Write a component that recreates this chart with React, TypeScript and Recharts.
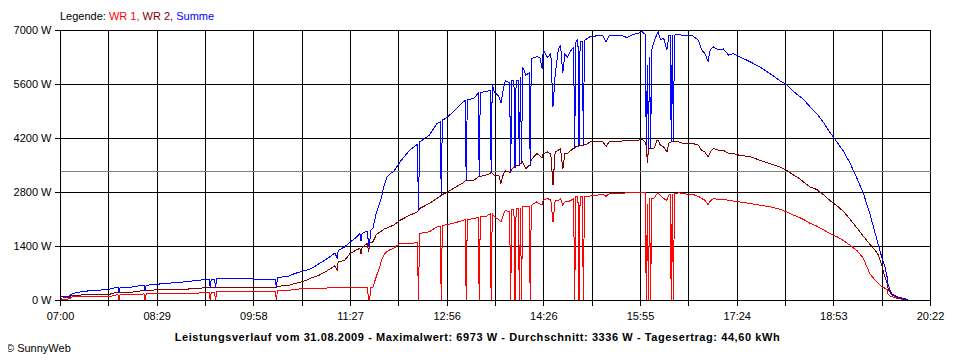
import React from 'react';
import { LineChart, Line, XAxis, YAxis, CartesianGrid, ReferenceLine } from 'recharts';

// time of day in minutes after midnight
const times = [
  420, 428, 431, 438, 446, 455, 461, 467, 472, 473,
  474, 475, 486, 492, 497, 498, 499, 516, 530, 540,
  555, 557, 558, 559, 562, 563, 564, 575, 590, 605,
  618, 619, 620, 630, 636, 642, 648, 652, 658, 664,
  669, 673, 675, 676, 682, 687, 692, 696, 697, 698,
  703, 704, 705, 706, 708, 711, 714, 716, 718, 721,
  724, 727, 733, 742, 749, 750, 751, 760, 767, 770,
  771, 772, 775, 782, 791, 793, 794, 795, 801, 805,
  806, 807, 812, 816, 817, 818, 820, 824, 826, 828,
  830, 834, 835, 836, 838, 839, 840, 842, 843, 844,
  845, 846, 849, 852, 853, 854, 859, 862, 864, 865,
  869, 872, 874, 876, 879, 881, 883, 885, 887, 891,
  893, 894, 895, 897, 898, 899, 901, 902, 903, 905,
  908, 914, 920, 923, 926, 936, 942, 948, 953, 956,
  959, 960, 961, 962, 963, 964, 965, 967, 970, 971,
  973, 976, 979, 981, 982, 983, 984, 985, 986, 990,
  994, 999, 1003, 1008, 1011, 1014, 1017, 1019, 1022, 1026,
  1031, 1036, 1040, 1046, 1056, 1065, 1074, 1083, 1089, 1096,
  1102, 1105, 1111, 1117, 1123, 1129, 1136, 1142, 1148, 1154,
  1160, 1166, 1171, 1174, 1177, 1180, 1182, 1183, 1186, 1191,
  1195, 1201,
];

const wr1 = [
  30, 40, 95, 95, 110, 110, 110, 110, 150, 155,
  0, 155, 155, 155, 170, 0, 170, 170, 170, 175,
  215, 215, 0, 215, 215, 0, 240, 240, 240, 240,
  240, 0, 265, 265, 280, 310, 310, 315, 320, 320,
  330, 335, 335, 335, 335, 335, 335, 335, 335, 335,
  335, 0, 0, 335, 350, 610, 850, 1045, 1180, 1270,
  1320, 1350, 1480, 1480, 1500, 0, 1740, 1780, 1910, 1910,
  0, 1950, 1960, 2000, 2080, 2100, 0, 2100, 2125, 2150,
  0, 2170, 2170, 2250, 0, 2255, 2170, 2100, 2040, 2200,
  2340, 2300, 0, 2350, 2350, 0, 2385, 2385, 0, 2400,
  0, 2430, 2430, 2430, 0, 2470, 2555, 2500, 2500, 2600,
  2645, 2600, 2040, 2600, 2600, 2640, 2470, 2555, 2555, 2600,
  2650, 0, 2685, 2685, 0, 2685, 2685, 0, 2700, 2700,
  2710, 2730, 2750, 2700, 2775, 2775, 2790, 2800, 2800, 2800,
  2790, 0, 2500, 0, 2645, 0, 2645, 2645, 2775, 2790,
  2730, 2645, 2600, 2750, 2750, 0, 2750, 0, 2775, 2790,
  2775, 2750, 2750, 2700, 2645, 2600, 2480, 2580, 2645, 2620,
  2620, 2600, 2580, 2555, 2515, 2470, 2430, 2365, 2300, 2210,
  2140, 2100, 2000, 1930, 1840, 1740, 1650, 1550, 1430, 1300,
  1100, 700, 520, 450, 350, 320, 280, 150, 100, 60,
  40, 10,
];

const wr2 = [
  60, 80, 140, 140, 155, 155, 160, 170, 215, 215,
  215, 215, 215, 240, 260, 260, 260, 290, 290, 300,
  335, 335, 335, 335, 335, 335, 335, 335, 340, 335,
  335, 335, 370, 390, 440, 480, 540, 595, 650, 740,
  830, 900, 780, 1000, 1045, 1220, 1300, 1350, 1200, 1380,
  1480, 1250, 1480, 1500, 1520, 1700, 1770, 1800, 1850, 1880,
  1920, 1950, 2080, 2210, 2300, 2330, 2385, 2515, 2650, 2700,
  2730, 2750, 2780, 2900, 3050, 3100, 3100, 3120, 3120, 3200,
  3220, 3220, 3250, 3290, 3335, 3300, 3250, 3250, 3035, 3250,
  3360, 3330, 3330, 3400, 3450, 3450, 3510, 3510, 3510, 3550,
  3560, 3595, 3420, 3500, 3500, 3650, 3810, 3750, 3700, 3810,
  3850, 3800, 2990, 3850, 3900, 3940, 3400, 3810, 3810, 3900,
  3950, 3950, 4000, 4000, 4000, 4025, 4025, 4025, 4050, 4050,
  4110, 4110, 4110, 4000, 4125, 4125, 4155, 4155, 4160, 4180,
  4110, 4025, 3560, 3940, 3940, 3940, 3940, 3940, 4155, 4150,
  4025, 3980, 3850, 4100, 4100, 4110, 4110, 4110, 4110, 4110,
  4070, 4070, 4070, 4025, 3895, 3850, 3725, 3850, 3940, 3900,
  3895, 3810, 3810, 3765, 3725, 3635, 3550, 3465, 3380, 3250,
  3145, 3070, 2945, 2880, 2750, 2600, 2450, 2300, 2100, 1890,
  1670, 1460, 1300, 1175, 915, 610, 450, 300, 150, 80,
  40, 15,
];

const summe = [
  90, 110, 180, 220, 250, 260, 290, 300, 350, 350,
  215, 350, 350, 380, 395, 260, 395, 440, 470, 500,
  550, 550, 335, 550, 550, 335, 570, 560, 565, 550,
  550, 335, 595, 630, 700, 750, 800, 840, 950, 1050,
  1150, 1230, 1100, 1300, 1390, 1520, 1620, 1740, 1550, 1740,
  1800, 1400, 1500, 1820, 1870, 2255, 2500, 2685, 2950, 3200,
  3290, 3335, 3595, 3900, 4050, 2330, 4110, 4285, 4590, 4630,
  2730, 4680, 4720, 4890, 5150, 5180, 3100, 5200, 5240, 5370,
  3220, 5400, 5410, 5450, 3335, 5600, 5400, 5300, 5115, 5450,
  5700, 5650, 3330, 5700, 5700, 3450, 5710, 5700, 3510, 5800,
  3560, 6060, 5840, 5900, 3500, 6275, 6320, 6300, 6000, 6490,
  6300, 6400, 5020, 5840, 6530, 6610, 5900, 6400, 6300, 6500,
  6550, 3950, 6700, 6765, 4000, 6700, 6720, 4025, 6750, 6780,
  6840, 6860, 6860, 6700, 6880, 6880, 6820, 6900, 6930, 6973,
  6900, 4025, 6100, 3940, 6300, 3940, 6500, 6700, 6920, 6965,
  6760, 6800, 6500, 6880, 6880, 4110, 6880, 4110, 6880, 6900,
  6860, 6860, 6860, 6750, 6500, 6400, 6205, 6500, 6575, 6500,
  6520, 6360, 6400, 6320, 6185, 6050, 5885, 5700, 5600, 5410,
  5280, 5210, 5020, 4850, 4630, 4370, 4100, 3860, 3550, 3180,
  2790, 2255, 1740, 1435, 1130, 870, 610, 400, 180, 95,
  70, 25,
];

const xStart = 420;
const xEnd = 1222;
const xTickLabels = ['07:00', '08:29', '09:58', '11:27', '12:56', '14:26', '15:55', '17:24', '18:53', '20:22'];
const yTicks = [0, 1400, 2800, 4200, 5600, 7000];
const average = 3336;
const title = 'Leistungsverlauf vom 31.08.2009 - Maximalwert: 6973 W - Durchschnitt: 3336 W - Tagesertrag: 44,60 kWh';

const rows = times.map((t, i) => ({ t, wr1: wr1[i], wr2: wr2[i], summe: summe[i] }));

// 18 grid intervals, every second one labelled
const xTicks = Array.from({ length: 19 }, (_, i) => xStart + (i * (xEnd - xStart)) / 18);
const xLabelFor = (v: number) => {
  const i = Math.round(((v - xStart) * 18) / (xEnd - xStart));
  return i % 2 === 0 ? xTickLabels[i / 2] : '';
};

const FONT = '"Liberation Sans", Arial, sans-serif';

export default function App() {
  return (
    <div style={{ position: 'relative', width: 952, height: 352, fontFamily: FONT, fontSize: 11, color: '#000' }}>
      <style>{`
        .recharts-cartesian-grid line,
        .recharts-reference-line line,
        .recharts-cartesian-axis-line,
        .recharts-cartesian-axis-tick-line { shape-rendering: crispEdges; }
        .recharts-line-curve { shape-rendering: crispEdges; }
      `}</style>
      <div style={{ position: 'absolute', left: 52, top: 2, lineHeight: '13px', whiteSpace: 'nowrap' }}>
        <span style={{ color: '#000' }}>Legende: </span>
        <span style={{ color: '#FF0000' }}>WR 1, </span>
        <span style={{ color: '#800000' }}>WR 2, </span>
        <span style={{ color: '#0000FF' }}>Summe</span>
      </div>
      <LineChart
        width={952}
        height={352}
        data={rows}
        margin={{ top: 22.5, right: 29.5, bottom: 29.5, left: 0 }}
      >
        <CartesianGrid stroke="#000" strokeWidth={1} fill="#fff" />
        <XAxis
          dataKey="t"
          type="number"
          domain={[xStart, xEnd]}
          ticks={xTicks}
          interval={0}
          tickFormatter={xLabelFor}
          tickSize={5}
          tickMargin={7}
          height={30}
          axisLine={{ stroke: '#000' }}
          tickLine={{ stroke: '#000' }}
          tick={{ fill: '#000', fontSize: 11, fontFamily: FONT }}
          allowDataOverflow
        />
        <YAxis
          type="number"
          domain={[0, 7000]}
          ticks={yTicks}
          interval={0}
          tickFormatter={(v: number) => `${v} W`}
          tickSize={6}
          tickMargin={3}
          width={52.5}
          axisLine={{ stroke: '#000' }}
          tickLine={{ stroke: '#000' }}
          tick={{ fill: '#000', fontSize: 11, fontFamily: FONT }}
          allowDataOverflow
        />
        <ReferenceLine y={average} stroke="#808080" strokeWidth={1} />
        <Line type="linear" dataKey="wr1" stroke="#FF0000" strokeWidth={1} dot={false} isAnimationActive={false} />
        <Line type="linear" dataKey="wr2" stroke="#800000" strokeWidth={1} dot={false} isAnimationActive={false} />
        <Line type="linear" dataKey="summe" stroke="#0000FF" strokeWidth={1} dot={false} isAnimationActive={false} />
      </LineChart>
      <div style={{ position: 'absolute', left: 0, width: 939, top: 322, textAlign: 'center', fontWeight: 'bold', lineHeight: '14px', letterSpacing: '0.58px', whiteSpace: 'nowrap' }}>
        {title}
      </div>
      <div style={{ position: 'absolute', left: -2, top: 334, lineHeight: '13px', whiteSpace: 'nowrap' }}>
        © SunnyWeb
      </div>
    </div>
  );
}
